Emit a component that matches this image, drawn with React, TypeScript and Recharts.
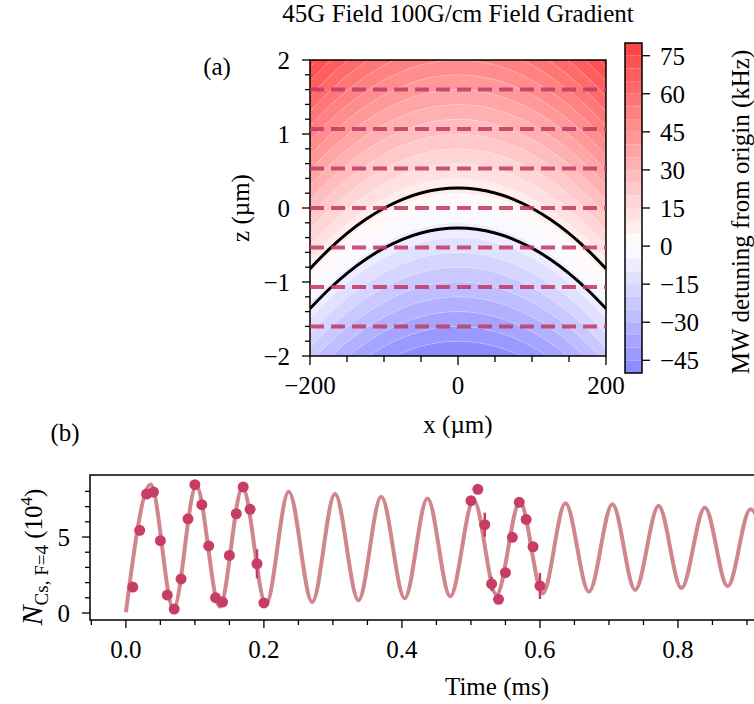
import React from 'react'
import {
  ComposedChart,
  Area,
  Line,
  Scatter,
  ErrorBar,
  XAxis,
  YAxis,
  ReferenceLine,
  ReferenceArea,
} from 'recharts'

const FONT = "'Liberation Serif', 'Times New Roman', serif"
const FS = 25

// ---- (a) detuning map ----
const xGrid = [-200, -175, -150, -125, -100, -75, -50, -25, 0, 25, 50, 75, 100, 125, 150, 175, 200]
const detuneLevels = [-50, -45, -40, -35, -30, -25, -20, -15, -10, -5, 0, 5, 10, 15, 20, 25, 30, 35, 40, 45, 50, 55, 60, 65, 70, 75, 80]
const gradKHzPerUm = 25
const bowlUm = 1.09 // how far an iso-detuning line drops at x = ±200 µm
const sliceZ = [1.6, 1.067, 0.533, 0, -0.533, -1.067, -1.6]
const upperResZ = [-0.82, -0.565, -0.343, -0.156, -0.003, 0.117, 0.202, 0.253, 0.27, 0.253, 0.202, 0.117, -0.003, -0.156, -0.343, -0.565, -0.82]
const lowerResZ = [-1.36, -1.105, -0.883, -0.696, -0.543, -0.423, -0.338, -0.287, -0.27, -0.287, -0.338, -0.423, -0.543, -0.696, -0.883, -1.105, -1.36]
const mapXTicks = [-200, -150, -100, -50, 0, 50, 100, 150, 200]
const mapZTicks = [-2, -1.8, -1.6, -1.4, -1.2, -1, -0.8, -0.6, -0.4, -0.2, 0, 0.2, 0.4, 0.6, 0.8, 1, 1.2, 1.4, 1.6, 1.8, 2]
const cbarTicks = [-45, -30, -15, 0, 15, 30, 45, 60, 75]

// ---- (b) Rabi flops ----
const fitT = [0, 0.036, 0.069, 0.102, 0.136, 0.169, 0.203, 0.236, 0.27, 0.303, 0.337, 0.37, 0.404, 0.437, 0.47, 0.504, 0.537, 0.571, 0.604, 0.637, 0.671, 0.705, 0.738, 0.772, 0.805, 0.839, 0.872, 0.905, 0.939]
const fitN = [0.05, 8.45, 0.28, 8.38, 0.42, 8.25, 0.58, 7.98, 0.72, 7.83, 0.84, 7.65, 0.97, 7.54, 1.1, 7.42, 1.2, 7.3, 1.3, 7.22, 1.4, 7.15, 1.52, 7.04, 1.64, 6.93, 1.76, 6.82, 1.88]
const measT = [0.01, 0.02, 0.03, 0.04, 0.05, 0.06, 0.07, 0.08, 0.09, 0.1, 0.11, 0.12, 0.13, 0.14, 0.15, 0.16, 0.17, 0.18, 0.19, 0.2,
  0.5, 0.51, 0.52, 0.53, 0.54, 0.55, 0.56, 0.57, 0.58, 0.59, 0.6]
const measN = [1.71, 5.44, 7.83, 7.96, 4.76, 1.18, 0.26, 2.24, 6.2, 8.44, 7.13, 4.41, 1.01, 0.72, 3.79, 6.53, 8.29, 6.82, 3.24, 0.66,
  7.39, 8.14, 5.81, 1.91, 0.9, 2.65, 4.98, 7.28, 6.16, 4.36, 1.78]
const measErr = [0, 0, 0, 0, 0, 0, 0, 0, 0, 0, 0, 0, 0, 0, 0, 0, 0, 0, 0.96, 0,
  0, 0, 0.79, 0.47, 0, 0, 0, 0, 0, 0, 0.86]
const timeTicks = [-0.05, 0, 0.05, 0.1, 0.15, 0.2, 0.25, 0.3, 0.35, 0.4, 0.45, 0.5, 0.55, 0.6, 0.65, 0.7, 0.75, 0.8, 0.85, 0.9]
const countTicks = [0, 1, 2, 3, 4, 5, 6, 7, 8]

const T_MIN = -0.052
const T_MAX = 1.129
const N_MIN = -0.46
const N_MAX = 9.08

const ALPHA = 0.75
const bwr = (v: number) => {
  const t = Math.max(-1, Math.min(1, v / 80))
  let r = 1, g = 1, b = 1
  if (t < 0) { r = 1 + t; g = 1 + t } else { g = 1 - t; b = 1 - t }
  const mix = (c: number) => Math.round(255 * (1 - ALPHA * (1 - c)))
  return `rgb(${mix(r)},${mix(g)},${mix(b)})`
}

const bands = detuneLevels.slice(0, -1).map((lo, k) => ({ key: 'b' + k, lo, hi: detuneLevels[k + 1], color: bwr((lo + detuneLevels[k + 1]) / 2) }))

const mapRows = xGrid.map((x, i) => {
  const row: Record<string, any> = { x, up: upperResZ[i], low: lowerResZ[i] }
  const drop = bowlUm * (x / 200) ** 2
  bands.forEach((b) => {
    row[b.key] = [b.lo / gradKHzPerUm - drop, b.hi / gradKHzPerUm - drop]
  })
  return row
})

const cbarRows = [{ c: 0, v: -50 }, { c: 1, v: 80 }]
const fitRows = fitT.map((t, i) => ({ t, n: fitN[i] }))
const measRows = measT.map((t, i) => ({ t, n: measN[i], err: measErr[i] }))

const minus = (v: number, digits = 0) => {
  const s = Math.abs(v).toFixed(digits)
  return v < 0 ? '\u2212' + s : s
}

const isMult = (v: number, step: number) => Math.abs(v / step - Math.round(v / step)) < 1e-6

const bottomTick = (step: number, digits: number, major = 8, minor = 5) => (p: any) => {
  const v = p.payload.value
  const big = isMult(v, step)
  return (
    <g>
      <line x1={p.x} x2={p.x} y1={p.y} y2={p.y + (big ? major : minor)} stroke="#000" strokeWidth={1.3} />
      {big && (
        <text x={p.x} y={p.y + 38} textAnchor="middle" fontFamily={FONT} fontSize={FS} fill="#000">
          {minus(v, digits)}
        </text>
      )}
    </g>
  )
}

const leftTick = (step: number, major = 8, minor = 5) => (p: any) => {
  const v = p.payload.value
  const big = isMult(v, step)
  return (
    <g>
      <line x1={p.x - (big ? major : minor)} x2={p.x} y1={p.y} y2={p.y} stroke="#000" strokeWidth={1.3} />
      {big && (
        <text x={p.x - 20} y={p.y + 9} textAnchor="end" fontFamily={FONT} fontSize={FS} fill="#000">
          {minus(v)}
        </text>
      )}
    </g>
  )
}

const rightTick = (p: any) => (
  <g>
    <line x1={p.x} x2={p.x + 8} y1={p.y} y2={p.y} stroke="#000" strokeWidth={1.3} />
    <text x={p.x + 18} y={p.y + 9} textAnchor="start" fontFamily={FONT} fontSize={FS} fill="#000">
      {minus(p.payload.value)}
    </text>
  </g>
)

const Txt = ({ x, y, rot = 0, children }: { x: number; y: number; rot?: number; children: React.ReactNode }) => (
  <div
    style={{
      position: 'absolute',
      left: x,
      top: y,
      transform: `translate(-50%, -50%) rotate(${rot}deg)`,
      whiteSpace: 'nowrap',
      fontFamily: FONT,
      fontSize: FS,
      lineHeight: 1,
      color: '#000',
    }}
  >
    {children}
  </div>
)

const App = () => {
  return (
    <div style={{ position: 'absolute', left: 0, top: 0, width: 754, height: 704, overflow: 'hidden', background: '#fff' }}>
      {/* (a) map */}
      <div style={{ position: 'absolute', left: 0, top: 0 }}>
        <ComposedChart width={754} height={440} data={mapRows} margin={{ top: 60, right: 148, bottom: 44, left: 250 }}>
          <XAxis
            dataKey="x"
            type="number"
            domain={[-200, 200]}
            ticks={mapXTicks}
            interval={0}
            allowDataOverflow
            axisLine={false}
            tickLine={false}
            tickSize={0}
            tickMargin={0}
            height={40}
            tick={bottomTick(200, 0, 9, 6)}
          />
          <YAxis
            type="number"
            domain={[-2, 2]}
            ticks={mapZTicks}
            interval={0}
            allowDataOverflow
            axisLine={false}
            tickLine={false}
            tickSize={0}
            tickMargin={0}
            width={60}
            tick={leftTick(1)}
          />
          {bands.map((b) => (
            <Area
              key={b.key}
              dataKey={b.key}
              type="monotone"
              fill={b.color}
              fillOpacity={1}
              stroke="#ffffff"
              strokeOpacity={0.2}
              strokeWidth={0.6}
              isAnimationActive={false}
            />
          ))}
          <Line dataKey="up" type="monotone" stroke="#000" strokeWidth={3} dot={false} isAnimationActive={false} />
          <Line dataKey="low" type="monotone" stroke="#000" strokeWidth={3} dot={false} isAnimationActive={false} />
          {sliceZ.map((z) => (
            <ReferenceLine key={z} y={z} stroke="#c23b66" strokeOpacity={0.88} strokeWidth={4} strokeDasharray="14 7" />
          ))}
          <ReferenceArea x1={-200} x2={200} y1={-2} y2={2} fill="none" stroke="#000" strokeWidth={1.5} />
        </ComposedChart>
      </div>

      {/* colour bar */}
      <div style={{ position: 'absolute', left: 0, top: 0 }}>
        <ComposedChart width={754} height={440} data={cbarRows} margin={{ top: 43, right: 52, bottom: 67, left: 625 }}>
          <XAxis dataKey="c" type="number" domain={[0, 1]} hide />
          <YAxis
            orientation="right"
            type="number"
            domain={[-50, 80]}
            ticks={cbarTicks}
            interval={0}
            axisLine={false}
            tickLine={false}
            tickSize={0}
            tickMargin={0}
            width={60}
            tick={rightTick}
          />
          <Line dataKey="v" stroke="none" dot={false} isAnimationActive={false} />
          {bands.map((b) => (
            <ReferenceArea key={b.key} x1={0} x2={1} y1={b.lo} y2={b.hi} fill={b.color} fillOpacity={1} stroke="none" />
          ))}
          <ReferenceArea x1={0} x2={1} y1={-50} y2={80} fill="none" stroke="#000" strokeWidth={1.5} />
        </ComposedChart>
      </div>

      {/* (b) oscillations */}
      <div style={{ position: 'absolute', left: 0, top: 440 }}>
        <ComposedChart width={910} height={264} margin={{ top: 35, right: 5, bottom: 44, left: 40 }}>
          <XAxis
            dataKey="t"
            type="number"
            domain={[T_MIN, T_MAX]}
            ticks={timeTicks}
            interval={0}
            allowDataOverflow
            axisLine={false}
            tickLine={false}
            tickSize={0}
            tickMargin={0}
            height={40}
            tick={bottomTick(0.2, 1)}
          />
          <YAxis
            type="number"
            domain={[N_MIN, N_MAX]}
            ticks={countTicks}
            interval={0}
            allowDataOverflow
            axisLine={false}
            tickLine={false}
            tickSize={0}
            tickMargin={0}
            width={50}
            tick={leftTick(5)}
          />
          <Line data={fitRows} dataKey="n" type="monotone" stroke="#cf868d" strokeWidth={4} dot={false} isAnimationActive={false} />
          <Scatter
            data={measRows}
            dataKey="n"
            fill="#c83d66"
            isAnimationActive={false}
            shape={(p: any) => <circle cx={p.cx} cy={p.cy} r={5.5} fill="#c83d66" />}
          >
            <ErrorBar dataKey="err" direction="y" width={0} stroke="#c83d66" strokeWidth={2.5} />
          </Scatter>
          <ReferenceArea x1={T_MIN} x2={T_MAX} y1={N_MIN} y2={N_MAX} fill="none" stroke="#000" strokeWidth={1.5} />
        </ComposedChart>
      </div>

      <Txt x={458} y={13}>45G Field 100G/cm Field Gradient</Txt>
      <Txt x={217} y={66}>(a)</Txt>
      <Txt x={240} y={208} rot={-90}>z (µm)</Txt>
      <Txt x={458} y={424}>x (µm)</Txt>
      <Txt x={740} y={212} rot={-90}>MW detuning from origin (kHz)</Txt>
      <Txt x={65} y={432}>(b)</Txt>
      <Txt x={32} y={557} rot={-90}>
        <span style={{ fontStyle: 'italic', fontSize: 30 }}>N</span>
        <span style={{ fontSize: 19, position: 'relative', top: 6 }}>Cs, F=4</span>
        <span> (10</span>
        <span style={{ fontSize: 17, position: 'relative', top: -10 }}>4</span>
        <span>)</span>
      </Txt>
      <Txt x={497} y={686}>Time (ms)</Txt>
    </div>
  )
}

export default App
